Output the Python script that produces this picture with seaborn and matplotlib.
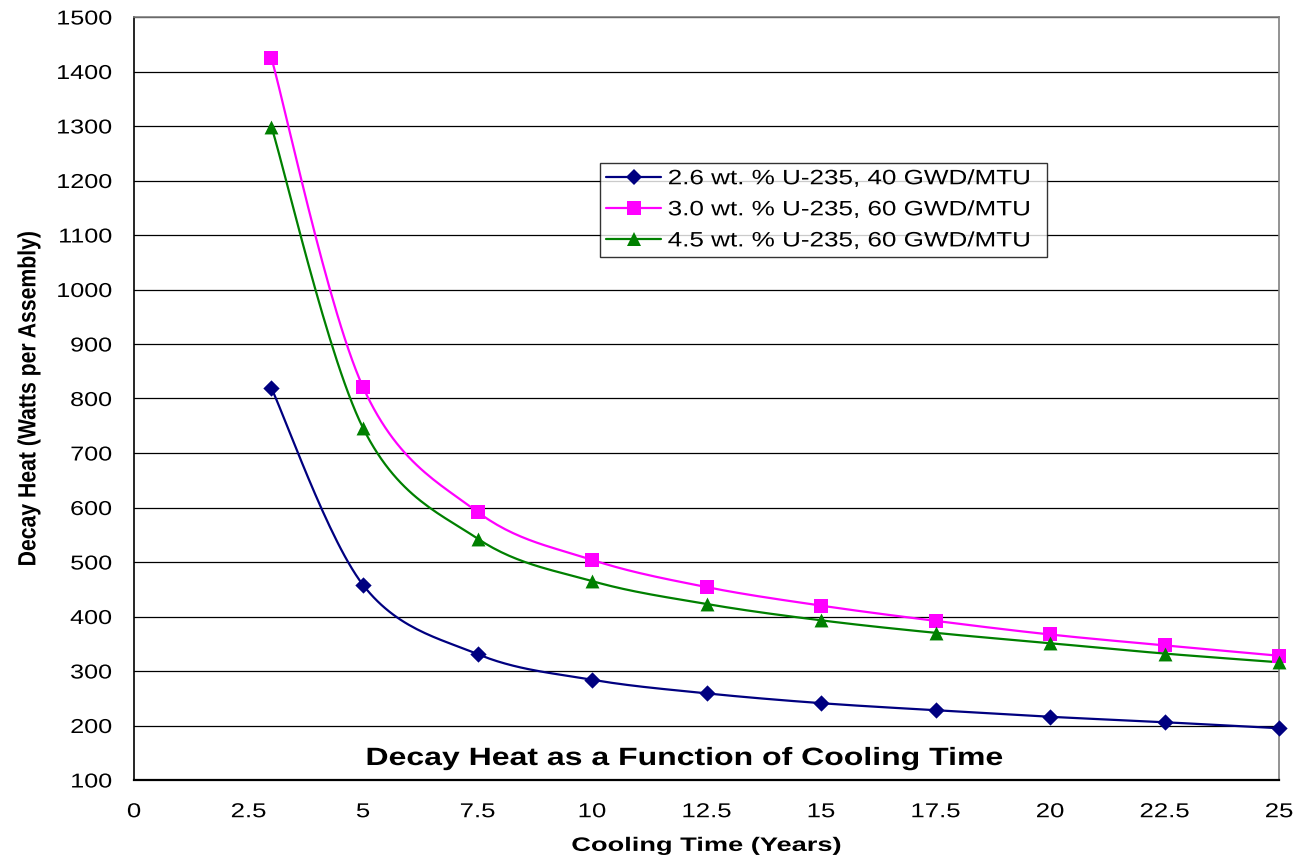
import numpy as np
import pandas as pd
import matplotlib
matplotlib.use("Agg")
import matplotlib.pyplot as plt
import seaborn as sns
from matplotlib.patheffects import AbstractPathEffect
from matplotlib.transforms import Affine2D

# ---- data ----
cooling_time = [3, 5, 7.5, 10, 12.5, 15, 17.5, 20, 22.5, 25]
heat_26_40 = [819, 458, 331, 284, 259, 241, 228, 216, 206, 195]
heat_30_60 = [1425, 821, 592, 504, 454, 420, 392, 367, 347, 328]
heat_45_60 = [1299, 746, 543, 465, 423, 393, 370, 351, 332, 316]
series_labels = ["2.6 wt. % U-235, 40 GWD/MTU",
                 "3.0 wt. % U-235, 60 GWD/MTU",
                 "4.5 wt. % U-235, 60 GWD/MTU"]
x_ticks = [0, 2.5, 5, 7.5, 10, 12.5, 15, 17.5, 20, 22.5, 25]
x_tick_labels = ["0", "2.5", "5", "7.5", "10", "12.5", "15", "17.5", "20", "22.5", "25"]
y_ticks = list(range(100, 1501, 100))

colors = ["#000080", "#FF00FF", "#008000"]
markers = ["D", "s", "^"]
msizes = [8.3, 10, 10]


class Stretch(AbstractPathEffect):
    """Widen text glyphs (the reference renders text horizontally stretched)."""
    def __init__(self, sx=1.0, sy=1.0, anchor="left"):
        super().__init__()
        self.sx, self.sy, self.anchor = sx, sy, anchor

    def draw_path(self, renderer, gc, tpath, affine, rgbFace=None):
        ext = tpath.get_extents()
        if self.anchor == "center":
            px = (ext.x0 + ext.x1) / 2
        elif self.anchor == "right":
            px = ext.x1
        else:
            px = 0
        t = Affine2D().translate(-px, 0).scale(self.sx, self.sy).translate(px, 0)
        renderer.draw_path(gc, tpath, t + affine, rgbFace)


SX = 1.28

sns.set_theme(style="white")
plt.rcParams['font.family'] = ['Liberation Sans', 'DejaVu Sans']
for k in ["text.color", "axes.labelcolor", "xtick.color", "ytick.color"]:
    plt.rcParams[k] = "black"

fig = plt.figure(figsize=(13.06, 8.59), dpi=100)
ax = fig.add_axes([134/1306, 1-780/859, (1279-134)/1306, (780-17)/859])


def smooth(xs, ys, n=30):
    # Excel-style smoothed line (Bezier through the data points, tension 1/6)
    P = np.column_stack([xs, ys]).astype(float)
    out = []
    m = len(P)
    for i in range(m - 1):
        p0 = P[i - 1] if i > 0 else P[i]
        p1 = P[i]
        p2 = P[i + 1]
        p3 = P[i + 2] if i + 2 < m else P[i + 1]
        c1 = p1 + (p2 - p0) / 6
        c2 = p2 - (p3 - p1) / 6
        t = np.linspace(0, 1, n)[:, None]
        seg = ((1 - t) ** 3) * p1 + 3 * ((1 - t) ** 2) * t * c1 + 3 * (1 - t) * t ** 2 * c2 + t ** 3 * p2
        out.append(seg if i == 0 else seg[1:])
    seg = np.vstack(out)
    return seg[:, 0], seg[:, 1]


all_series = [heat_26_40, heat_30_60, heat_45_60]
for ys, lab, c, mk, ms in zip(all_series, series_labels, colors, markers, msizes):
    sx, sy = smooth(cooling_time, ys)
    ax.plot(sx, sy, color=c, lw=1.6, zorder=3)
    df = pd.DataFrame({"x": cooling_time, "y": ys})
    sns.scatterplot(data=df, x="x", y="y", ax=ax, marker=mk, s=ms**2, color=c,
                    edgecolor=c, linewidth=0, zorder=4, legend=False, clip_on=False)
    ax.plot([], [], color=c, lw=1.6, marker=mk, markersize=ms, markeredgewidth=0, label=lab)

ax.set_xlim(0, 25)
ax.set_ylim(100, 1500)
ax.set_xticks(x_ticks)
ax.set_xticklabels(x_tick_labels)
ax.set_yticks(y_ticks)
ax.yaxis.grid(True, color="black", lw=0.9)
ax.xaxis.grid(False)
ax.set_axisbelow(True)
ax.spines["left"].set_color("black")
ax.spines["left"].set_linewidth(1.2)
ax.spines["bottom"].set_color("black")
ax.spines["bottom"].set_linewidth(1.6)
for s in ["top", "right"]:
    ax.spines[s].set_color("#808080")
    ax.spines[s].set_linewidth(1.2)
ax.tick_params(axis="both", which="major", direction="out", length=6, width=1,
               color="black", labelsize=14.5)
ax.tick_params(axis="y", pad=10)
ax.tick_params(axis="x", pad=10)

ax.set_xlabel("Cooling Time (Years)", fontsize=14, fontweight="bold", labelpad=12)
ax.set_ylabel("Decay Heat (Watts per Assembly)", fontsize=14, fontweight="bold", labelpad=20)
title = ax.text(0.4808, (780 - 765) / 763, "Decay Heat as a Function of Cooling Time",
                transform=ax.transAxes, ha="center", va="baseline", fontsize=18, fontweight="bold")

leg = ax.legend(loc="upper left",
                bbox_to_anchor=((600 - 134) / 1145, (780 - 258) / 763, 447 / 1145, 95 / 763),
                mode="expand", fontsize=15, frameon=True, fancybox=False, edgecolor="black",
                handlelength=2.65, borderpad=0.3, labelspacing=0.58, handletextpad=0.3,
                borderaxespad=0)
leg.get_frame().set_linewidth(1)

# horizontal stretch of all text, as in the reference rendering
title.set_path_effects([Stretch(SX, 1, "center")])
ax.xaxis.label.set_path_effects([Stretch(1.4, 1, "center")])
ax.yaxis.label.set_path_effects([Stretch(1.09, SX, "center")])
for t in ax.get_xticklabels():
    t.set_path_effects([Stretch(SX, 1, "center")])
for t in ax.get_yticklabels():
    t.set_path_effects([Stretch(1.25, 1, "right")])
for t in leg.get_texts():
    t.set_path_effects([Stretch(1.25, 1, "left")])

fig.savefig("out.png", dpi=100)
